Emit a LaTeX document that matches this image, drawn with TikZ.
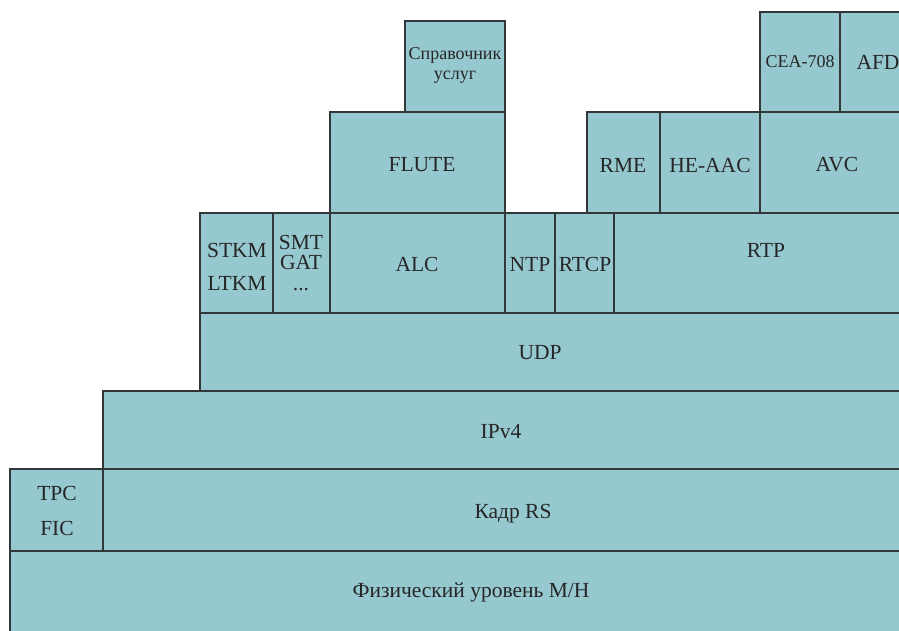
\documentclass[tikz,border=0pt]{standalone}
\usepackage{fontspec}
\setmainfont{Liberation Serif}
\definecolor{boxfill}{RGB}{150,200,207}
\definecolor{boxline}{RGB}{50,55,58}
\begin{document}
\begin{tikzpicture}[x=1pt,y=-1pt,
  layer/.style={fill=boxfill,draw=boxline,line width=1.3pt},
  lbl/.style={font=\fontsize{21.5}{20.5}\selectfont,text=black!85,inner sep=0pt,align=center},
  small/.style={font=\fontsize{18}{20}\selectfont,text=black!85,inner sep=0pt,align=center}]
\useasboundingbox (0,0) rectangle (899,631);
\clip (0,0) rectangle (899,631);
% layers
\draw[layer] (10,551) rectangle (940,660);
\draw[layer] (10,469) rectangle (103,551);
\draw[layer] (103,469) rectangle (940,551);
\draw[layer] (103,391) rectangle (940,469);
\draw[layer] (200,313) rectangle (940,391);
\draw[layer] (200,213) rectangle (273,313);
\draw[layer] (273,213) rectangle (330,313);
\draw[layer] (330,213) rectangle (505,313);
\draw[layer] (505,213) rectangle (555,313);
\draw[layer] (555,213) rectangle (614,313);
\draw[layer] (614,213) rectangle (940,313);
\draw[layer] (330,112) rectangle (505,213);
\draw[layer] (405,21) rectangle (505,112);
\draw[layer] (587,112) rectangle (660,213);
\draw[layer] (660,112) rectangle (760,213);
\draw[layer] (760,112) rectangle (940,213);
\draw[layer] (760,12) rectangle (840,112);
\draw[layer] (840,12) rectangle (940,112);
% labels
\node[lbl] (phy) at (471,592) {Физический уровень M/H};
\node[lbl] (tpc) at (57,493) {TPC};
\node[lbl] (fic) at (57,528) {FIC};
\node[lbl] (rs) at (513,514) {Кадр RS};
\node[lbl] (ip) at (501,432) {IPv4};
\node[lbl] (udp) at (540,353) {UDP};
\node[lbl] (stkm) at (237,250) {STKM};
\node[lbl] (ltkm) at (237,283) {LTKM};
\node[lbl] (smt) at (301,263) {SMT\\GAT\\...};
\node[lbl] (alc) at (417,264) {ALC};
\node[lbl] (ntp) at (530,264) {NTP};
\node[lbl] (rtcp) at (585,264) {RTCP};
\node[lbl] (rtp) at (766,250) {RTP};
\node[lbl] (flute) at (422,165) {FLUTE};
\node[small] (spr) at (455,65) {Справочник\\услуг};
\node[lbl] (rme) at (623,165) {RME};
\node[lbl] (heaac) at (710,165) {HE-AAC};
\node[lbl] (avc) at (837,165) {AVC};
\node[small] (cea) at (800,62) {CEA-708};
\node[lbl] (afd) at (878,62) {AFD};
\end{tikzpicture}
\end{document}
